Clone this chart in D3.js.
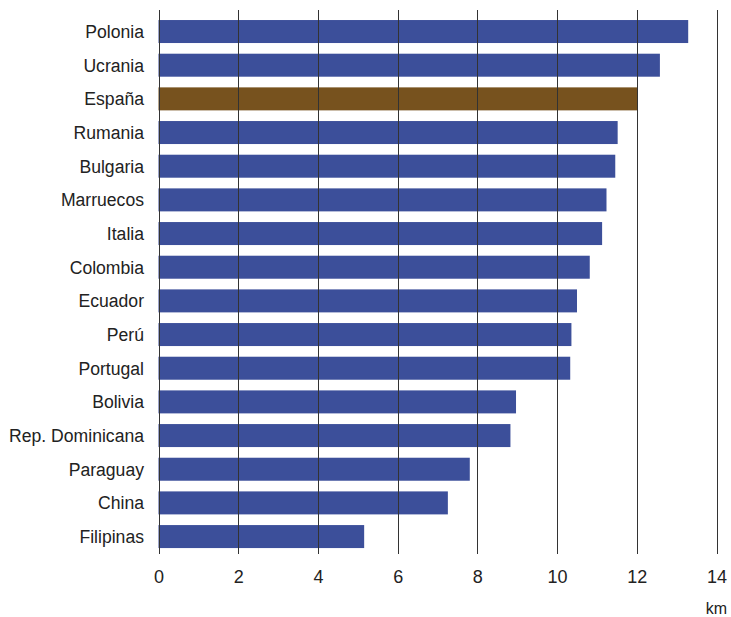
<!DOCTYPE html>
<html><head><meta charset="utf-8">
<script src="https://cdn.jsdelivr.net/npm/d3@7"></script>
<style>body{margin:0;background:#fff}svg{display:block}</style>
</head><body>
<script>
const countries = ["Polonia","Ucrania","España","Rumania","Bulgaria","Marruecos","Italia","Colombia","Ecuador","Perú","Portugal","Bolivia","Rep. Dominicana","Paraguay","China","Filipinas"];
const distances = [13.29,12.58,12.03,11.52,11.46,11.24,11.13,10.82,10.50,10.36,10.33,8.97,8.83,7.81,7.26,5.16];
const highlighted = ["España"];
const tickValues = [0,2,4,6,8,10,12,14];
const unitLabel = "km";

const W = 731, H = 617;
const svg = d3.select("body").append("svg").attr("width", W).attr("height", H);
const font = "'Liberation Sans', Arial, sans-serif";

const x = d3.scaleLinear().domain([0,14]).range([158.5, 716.5]);
const y = d3.scaleBand().domain(countries).range([14.7, 553.4]).paddingInner(0.317).paddingOuter(0.1585);

svg.append("g").selectAll("rect").data(countries).join("rect")
  .attr("x", x(0))
  .attr("y", d => y(d))
  .attr("width", (d,i) => x(distances[i]) - x(0))
  .attr("height", y.bandwidth())
  .attr("fill", d => highlighted.includes(d) ? "#77521e" : "#3c4f9a");

// gridlines on top of bars
svg.append("g").selectAll("line").data(tickValues).join("line")
  .attr("x1", d => Math.round(x(d)) + 0.5).attr("x2", d => Math.round(x(d)) + 0.5)
  .attr("y1", 10).attr("y2", 554)
  .attr("stroke", "#333").attr("stroke-width", 1);

const xAxis = d3.axisBottom(x).tickValues(tickValues).tickSize(0).tickPadding(0);
const gx = svg.append("g").attr("transform", "translate(0,583)").call(xAxis);
gx.select(".domain").remove();
gx.selectAll("text").attr("y", 0).attr("dy", 0)
  .attr("font-family", font).attr("font-size", 18).attr("fill", "#222");

const yAxis = d3.axisLeft(y).tickSize(0).tickPadding(0);
const gy = svg.append("g").attr("transform", "translate(144,0)").call(yAxis);
gy.select(".domain").remove();
gy.selectAll("text").attr("font-family", font).attr("font-size", 17.6).attr("fill", "#222").attr("dy", "0.36em");

svg.append("text").attr("x", 727).attr("y", 614).attr("text-anchor", "end")
  .attr("font-family", font).attr("font-size", 16).attr("fill", "#222").text(unitLabel);
</script>
</body></html>
